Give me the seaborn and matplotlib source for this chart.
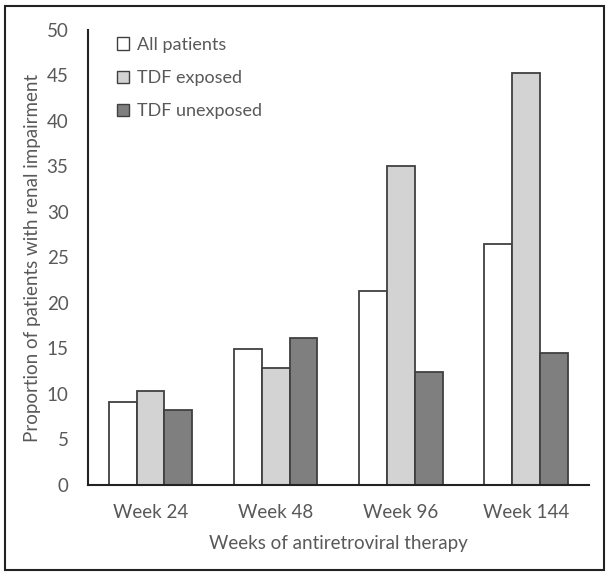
import pandas as pd
import matplotlib.pyplot as plt
import matplotlib.patches as mpatches
import seaborn as sns

weeks = ["Week 24", "Week 48", "Week 96", "Week 144"]
all_patients = [9.1, 14.9, 21.3, 26.5]
tdf_exposed = [10.3, 12.9, 35.0, 45.3]
tdf_unexposed = [8.2, 16.2, 12.4, 14.5]
groups = ["All patients", "TDF exposed", "TDF unexposed"]
colors = ["#ffffff", "#d3d3d3", "#7f7f7f"]

df = pd.DataFrame({
    "week": weeks * 3,
    "group": [groups[0]] * 4 + [groups[1]] * 4 + [groups[2]] * 4,
    "value": all_patients + tdf_exposed + tdf_unexposed,
})

sns.set_style("white")
plt.rcParams["font.family"] = ["Lato", "DejaVu Sans"]
txt = "#595959"

fig = plt.figure(figsize=(6.09, 5.76), dpi=100)
ax = fig.add_axes([0.1445, 0.158, 0.822, 0.79])

sns.barplot(data=df, x="week", y="value", hue="group", order=weeks,
            hue_order=groups, palette=colors, width=0.667,
            edgecolor="#404040", linewidth=1.3, ax=ax)

ax.set_ylim(0, 50)
ax.set_xlim(-0.5, 3.5)
ax.set_yticks(range(0, 51, 5))
ax.tick_params(axis="both", length=0, labelsize=13.5, colors=txt)
ax.tick_params(axis="x", pad=14)
ax.tick_params(axis="y", pad=14)
ax.set_xlabel("Weeks of antiretroviral therapy", fontsize=13.5, color=txt, labelpad=10)
ax.set_ylabel("Proportion of patients with renal impairment", fontsize=13.5,
              color=txt, labelpad=4)
for s in ["top", "right"]:
    ax.spines[s].set_visible(False)
for s in ["left", "bottom"]:
    ax.spines[s].set_color("#222222")
    ax.spines[s].set_linewidth(1.5)

handles = [mpatches.Patch(facecolor=c, edgecolor="#404040", linewidth=1)
           for c in colors]
ax.legend(handles, groups, loc="upper left", bbox_to_anchor=(0.025, 1.02),
          frameon=False, fontsize=13, labelcolor=txt, handlelength=0.7,
          handleheight=0.7, handletextpad=0.4, labelspacing=0.95)

fig.patches.append(mpatches.Rectangle((0.008, 0.01), 0.984, 0.98,
                                      transform=fig.transFigure, fill=False,
                                      edgecolor="#222222", linewidth=1.5))

fig.savefig("out.png", dpi=100)
